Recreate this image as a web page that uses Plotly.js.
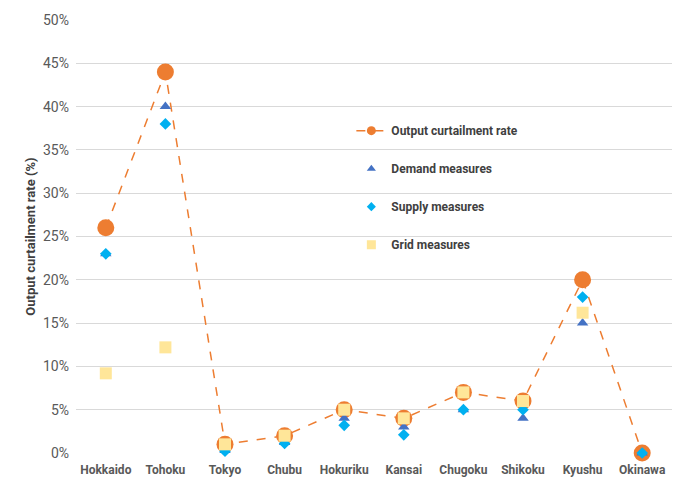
<!DOCTYPE html>
<html>
<head>
<meta charset="utf-8">
<script src="https://cdn.plot.ly/plotly-3.0.1.min.js"></script>
<style>
  html, body { margin: 0; padding: 0; background: #fff; }
  #chart { width: 685px; height: 484px; }
</style>
</head>
<body>
<div id="chart"></div>
<script>
var regions = ['Hokkaido', 'Tohoku', 'Tokyo', 'Chubu', 'Hokuriku', 'Kansai', 'Chugoku', 'Shikoku', 'Kyushu', 'Okinawa'];
var curtailment = [26, 44, 1, 2, 5, 4, 7, 6, 20, 0];
var demand = [23, 40, 0.3, 1.2, 4, 3, 5, 4, 15, 0];
var supply = [23, 38, 0.2, 1.1, 3.2, 2.1, 5, 5, 18, 0];
var grid = [9.2, 12.2, 1, 2, 5, 4, 7, 6, 16.2, null];

var seriesNames = ['Output curtailment rate', 'Demand measures', 'Supply measures', 'Grid measures'];
var seriesColors = ['#ED7D31', '#4472C4', '#00B0F0', '#FFE699'];
var seriesSymbols = ['circle', 'triangle-up', 'diamond', 'square'];

function rateChart(chart_id){
    var values = [curtailment, demand, supply, grid];
    var plotSizes = [17, 10, 9, 12];
    var legendSizes = [9, 8, 7, 9];
    var data = [];
    // the marks themselves
    for (var i = 0; i < values.length; i++){
	data.push({
	    name: seriesNames[i], showlegend: false, cliponaxis: false,
	    type: 'scatter', mode: i == 0 ? 'lines+markers' : 'markers',
	    x: regions, y: values[i],
	    line: {color: seriesColors[i], width: 1.5, dash: 'dash'},
	    marker: {color: seriesColors[i], size: plotSizes[i], symbol: seriesSymbols[i]}
	});
    }
    // legend entries with smaller symbols, like the spreadsheet legend
    for (var i = 0; i < values.length; i++){
	data.push({
	    name: seriesNames[i], legendgroup: 'g' + i,
	    type: 'scatter', mode: i == 0 ? 'lines+markers' : 'markers',
	    x: [null], y: [null],
	    line: {color: seriesColors[i], width: 1.5, dash: 'dash'},
	    marker: {color: seriesColors[i], size: legendSizes[i], symbol: seriesSymbols[i]}
	});
    }
    var layout = {
	width: 685, height: 484,
	margin: {l: 76, r: 13, t: 20, b: 31},
	paper_bgcolor: '#fff', plot_bgcolor: '#fff',
	showlegend: true,
	legend: {
	    x: 0.462, y: 0.778, xanchor: 'left', yanchor: 'top',
	    bgcolor: 'rgba(0,0,0,0)', traceorder: 'grouped', tracegroupgap: 19,
	    font: {family: 'Roboto, Arial, sans-serif', size: 12, color: '#404040', weight: 'bold'}
	},
	xaxis: {
	    type: 'category', showgrid: false, zeroline: false, showline: false,
	    ticks: '', range: [-0.5, 9.5], ticklabelstandoff: 8,
	    tickfont: {family: 'Roboto, Arial, sans-serif', size: 12, color: '#595959', weight: 'bold'}
	},
	yaxis: {
	    range: [0, 50], dtick: 5, ticksuffix: '%',
	    showgrid: true, gridcolor: '#D9D9D9', gridwidth: 1,
	    zeroline: false, showline: false, ticks: '', ticklabelstandoff: 6,
	    tickfont: {family: 'Roboto, Arial, sans-serif', size: 14, color: '#595959'},
	    title: {text: 'Output curtailment rate (%)', standoff: 4,
		    font: {family: 'Roboto, Arial, sans-serif', size: 13, color: '#404040', weight: 'bold'}}
	}
    };
    var config = {displayModeBar: false, staticPlot: true};
    Plotly.newPlot(chart_id, data, layout, config);
}

rateChart('chart');
</script>
</body>
</html>
